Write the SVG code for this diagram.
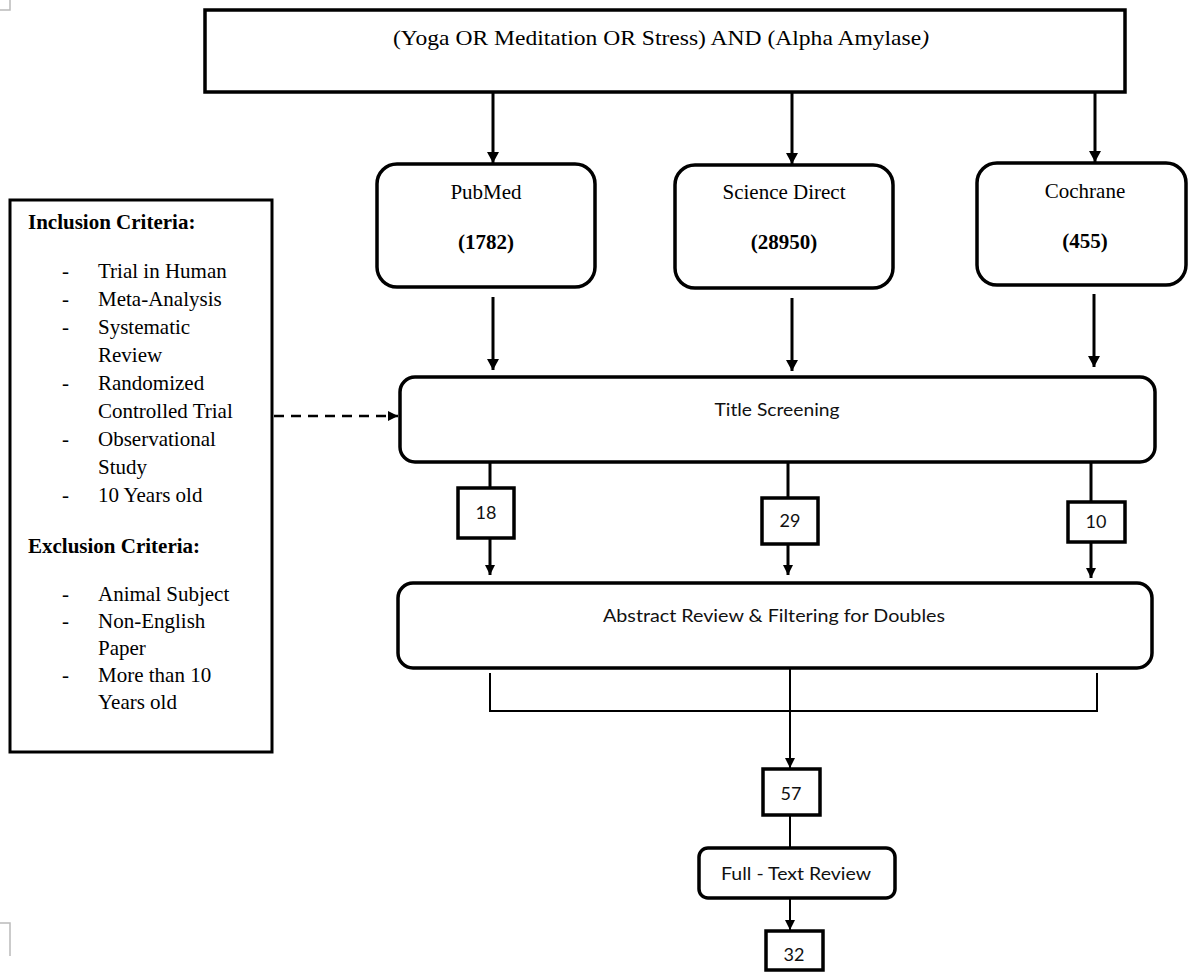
<svg xmlns="http://www.w3.org/2000/svg" width="1190" height="976" viewBox="0 0 1190 976">
<style>
.box{fill:#fff;stroke:#000;stroke-width:3.5}
.sbox{fill:#fff;stroke:#000;stroke-width:3.5}
.serif{font-family:"Liberation Serif","Times New Roman",serif;font-size:21px;fill:#000}
.bold{font-weight:bold}
.sans{font-family:Lato,"Open Sans",sans-serif;font-size:17px;fill:#111}
.num{font-size:18px}
.conn{stroke:#000;stroke-width:3;fill:none}
.thin{stroke:#000;stroke-width:2;fill:none}
.dash{stroke:#000;stroke-width:2.5;fill:none;stroke-dasharray:10 7}
.mark{stroke:#bbb;stroke-width:1.5;fill:none}
</style>
<defs>
<marker id="ah" markerUnits="userSpaceOnUse" markerWidth="12" markerHeight="12" refX="11" refY="6" orient="auto">
<path d="M0,0 L11,6 L0,12 z" fill="#000"/>
</marker>
<marker id="ahs" markerUnits="userSpaceOnUse" markerWidth="10" markerHeight="10" refX="10" refY="5" orient="auto">
<path d="M0,0 L10,5 L0,10 z" fill="#000"/>
</marker>
</defs>
<path class="mark" d="M0,10 H10 V0"/>
<path class="mark" d="M0,923 H10 V956"/>

<g id="connectors">
<line class="conn" x1="493" y1="92" x2="493" y2="163" marker-end="url(#ah)"/>
<line class="conn" x1="792" y1="92" x2="792" y2="164" marker-end="url(#ah)"/>
<line class="conn" x1="1095" y1="92" x2="1095" y2="162" marker-end="url(#ah)"/>
<line class="conn" x1="493" y1="297" x2="493" y2="370" marker-end="url(#ah)"/>
<line class="conn" x1="792" y1="298" x2="792" y2="371" marker-end="url(#ah)"/>
<line class="conn" x1="1094" y1="294" x2="1094" y2="367" marker-end="url(#ah)"/>
<line class="dash" x1="274" y1="416" x2="398" y2="416" marker-end="url(#ahs)"/>
<line class="conn" x1="490" y1="462" x2="490" y2="488"/>
<line class="conn" x1="490" y1="538" x2="490" y2="575" marker-end="url(#ahs)"/>
<line class="conn" x1="788" y1="462" x2="788" y2="498"/>
<line class="conn" x1="788" y1="544" x2="788" y2="575" marker-end="url(#ahs)"/>
<line class="conn" x1="1091" y1="462" x2="1091" y2="502"/>
<line class="conn" x1="1091" y1="542" x2="1091" y2="578" marker-end="url(#ahs)"/>
<path class="thin" d="M490,673 V711 H1097 V673"/>
<line class="thin" x1="790" y1="668" x2="790" y2="768" marker-end="url(#ahs)"/>
<line class="thin" x1="790" y1="815" x2="790" y2="848"/>
<line class="thin" x1="790" y1="898" x2="790" y2="930" marker-end="url(#ahs)"/>
</g>

<g id="query">
<rect class="box" x="205" y="10" width="920" height="82"/>
<text class="serif" x="661" y="45" text-anchor="middle" font-size="23" textLength="536" lengthAdjust="spacingAndGlyphs">(Yoga OR Meditation OR Stress) AND (Alpha Amylase<tspan font-style="italic">)</tspan></text>
</g>

<g id="pubmed">
<rect class="box" x="377" y="164" width="218" height="123" rx="20"/>
<text class="serif" x="486" y="199" text-anchor="middle">PubMed</text>
<text class="serif bold" x="486" y="249" text-anchor="middle">(1782)</text>
</g>

<g id="sciencedirect">
<rect class="box" x="675" y="165" width="218" height="123" rx="20"/>
<text class="serif" x="784" y="199" text-anchor="middle">Science Direct</text>
<text class="serif bold" x="784" y="249" text-anchor="middle">(28950)</text>
</g>

<g id="cochrane">
<rect class="box" x="977" y="163" width="209" height="122" rx="20"/>
<text class="serif" x="1085" y="198" text-anchor="middle">Cochrane</text>
<text class="serif bold" x="1085" y="248" text-anchor="middle">(455)</text>
</g>

<g id="criteria">
<rect class="box" x="10" y="200" width="262" height="552" style="stroke-width:3"/>
<text class="serif bold" x="28" y="229">Inclusion Criteria:</text>
<g class="serif">
<text x="62" y="278">-</text><text x="98" y="278">Trial in Human</text>
<text x="62" y="306">-</text><text x="98" y="306">Meta-Analysis</text>
<text x="62" y="334">-</text><text x="98" y="334">Systematic</text>
<text x="98" y="362">Review</text>
<text x="62" y="390">-</text><text x="98" y="390">Randomized</text>
<text x="98" y="418">Controlled Trial</text>
<text x="62" y="446">-</text><text x="98" y="446">Observational</text>
<text x="98" y="474">Study</text>
<text x="62" y="502">-</text><text x="98" y="502">10 Years old</text>
</g>
<text class="serif bold" x="28" y="553">Exclusion Criteria:</text>
<g class="serif">
<text x="62" y="601">-</text><text x="98" y="601">Animal Subject</text>
<text x="62" y="628">-</text><text x="98" y="628">Non-English</text>
<text x="98" y="655">Paper</text>
<text x="62" y="682">-</text><text x="98" y="682">More than 10</text>
<text x="98" y="709">Years old</text>
</g>
</g>

<g id="title">
<rect class="box" x="400" y="377" width="755" height="85" rx="15"/>
<text class="sans" x="777" y="416" text-anchor="middle" textLength="125" lengthAdjust="spacingAndGlyphs">Title Screening</text>
</g>

<g id="n18">
<rect class="sbox" x="458" y="488" width="56" height="50"/>
<text class="sans num" x="486" y="519" text-anchor="middle">18</text>
</g>
<g id="n29">
<rect class="sbox" x="762" y="498" width="56" height="46"/>
<text class="sans num" x="790" y="527" text-anchor="middle">29</text>
</g>
<g id="n10">
<rect class="sbox" x="1068" y="502" width="57" height="40"/>
<text class="sans num" x="1096" y="528" text-anchor="middle">10</text>
</g>

<g id="abstract">
<rect class="box" x="398" y="583" width="754" height="85" rx="15"/>
<text class="sans" x="774" y="622" text-anchor="middle" textLength="342" lengthAdjust="spacingAndGlyphs">Abstract Review &amp; Filtering for Doubles</text>
</g>

<g id="n57">
<rect class="sbox" x="763" y="769" width="57" height="46"/>
<text class="sans num" x="791" y="800" text-anchor="middle">57</text>
</g>

<g id="fulltext">
<rect class="box" x="699" y="848" width="196" height="50" rx="9"/>
<text class="sans" x="796" y="880" text-anchor="middle" textLength="150" lengthAdjust="spacingAndGlyphs">Full - Text Review</text>
</g>

<g id="n32">
<rect class="sbox" x="766" y="931" width="57" height="39"/>
<text class="sans num" x="794" y="961" text-anchor="middle">32</text>
</g>
</svg>
